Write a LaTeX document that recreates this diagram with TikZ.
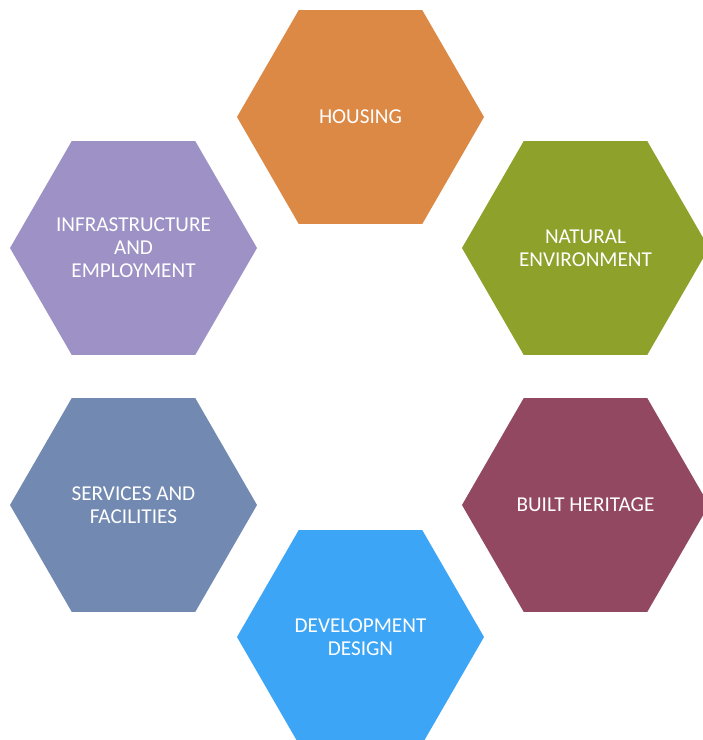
\documentclass[tikz,border=0pt]{standalone}
\usepackage{fontspec}
\setmainfont{Carlito}
\usepackage{xcolor}
\usepackage{tikz}
\usetikzlibrary{shapes.geometric}

\definecolor{hexorange}{RGB}{220,137,69}
\definecolor{hexgreen}{RGB}{142,161,43}
\definecolor{hexplum}{RGB}{145,72,96}
\definecolor{hexblue}{RGB}{61,165,245}
\definecolor{hexlilac}{RGB}{158,145,197}
\definecolor{hexslate}{RGB}{114,138,178}

\begin{document}
\begin{tikzpicture}[
  x=1pt, y=-1pt,
  hexcell/.style={regular polygon, regular polygon sides=6, minimum size=247pt,
    inner sep=0pt, fill=#1},
  hextext/.style={align=center, text=white, inner sep=0pt,
    font=\fontsize{21.2}{23}\selectfont},
]
\useasboundingbox (0,0) rectangle (703,740);
% text goes in a centred label so the hexagons keep one size
\node[hexcell=hexorange, label={[hextext]center:HOUSING}] (H)  at (360.5, 117) {};
\node[hexcell=hexgreen,  label={[hextext]center:NATURAL\\ENVIRONMENT}] (NE) at (585.5, 248) {};
\node[hexcell=hexplum,   label={[hextext]center:BUILT HERITAGE}] (BH) at (585.5, 505) {};
\node[hexcell=hexblue,   label={[hextext]center:DEVELOPMENT\\DESIGN}] (DD) at (360.5, 637) {};
\node[hexcell=hexslate,  label={[hextext]center:SERVICES AND\\FACILITIES}] (SF) at (133.5, 505) {};
\node[hexcell=hexlilac,  label={[hextext]center:INFRASTRUCTURE\\AND\\EMPLOYMENT}] (IE) at (133.5, 248) {};
\end{tikzpicture}
\end{document}
